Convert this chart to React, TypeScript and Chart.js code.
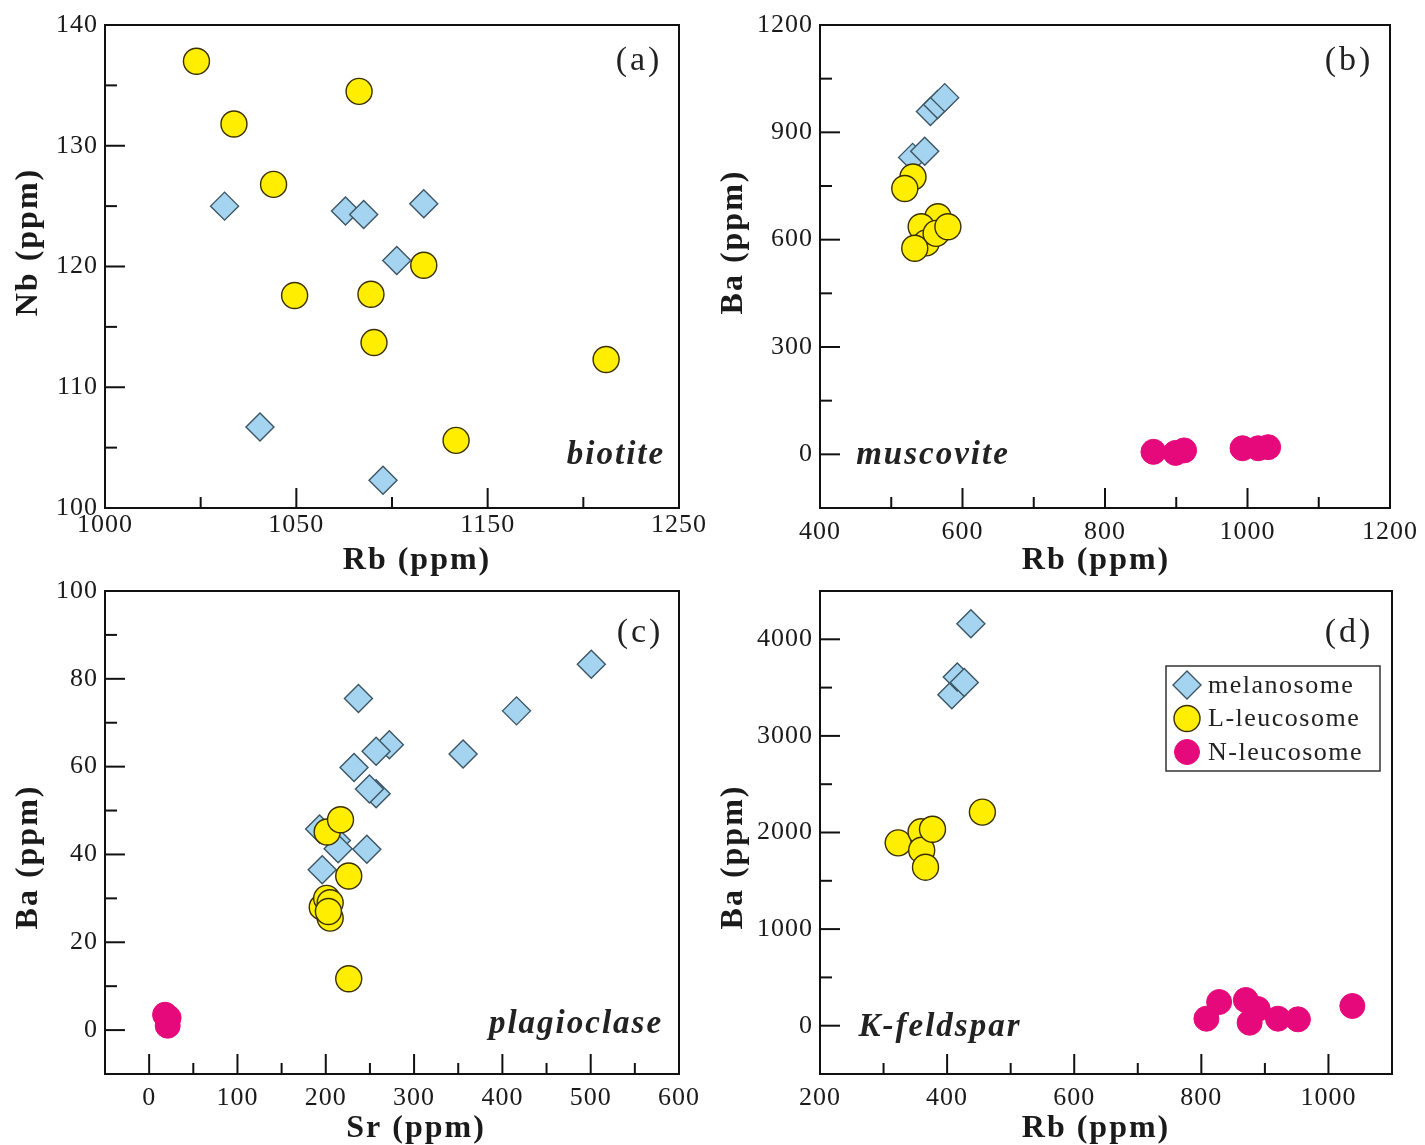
import React, { useEffect, useRef } from "react";
import { Chart, registerables } from "chart.js";

Chart.register(...registerables);

const W = 1425;
const H = 1145;
const SERIF = '"Liberation Serif", "Times New Roman", Times, serif';

// ---------- series names ----------
const seriesNames = ["melanosome", "L-leucosome", "N-leucosome"];

// ---------- (a) biotite : Rb vs Nb ----------
const aMelRb = [1012.5, 1075.7, 1085.2, 1116.6, 1102.5, 1031.0, 1095.3];
const aMelNb = [125.0, 124.6, 124.3, 125.2, 120.5, 106.7, 102.3];
const aLRb = [997.8, 1017.4, 1038.1, 1082.8, 1049.1, 1089.0, 1116.6, 1090.6, 1211.9, 1133.5];
const aLNb = [137.0, 131.8, 126.8, 134.5, 117.6, 117.7, 120.1, 113.7, 112.3, 105.6];
const aXTicks = [950, 1050, 1150, 1250];
const aXTickLabels = ["1000", "1050", "1150", "1250"];
const aXMinor = [1000, 1100, 1200];
const aYTicks = [100, 110, 120, 130, 140];
const aYTickLabels = ["100", "110", "120", "130", "140"];
const aYMinor = [105, 115, 125, 135];

// ---------- (b) muscovite : Rb vs Ba ----------
const bMelRb = [530, 547, 555, 565, 575];
const bMelBa = [830, 847, 958, 978, 997];
const bLRb = [530.5, 519, 565.5, 542, 549, 563, 579.5, 533];
const bLBa = [775, 743, 664, 636, 591, 617.5, 636, 576];
const bNRb = [868, 899, 911, 993, 1015, 1029];
const bNBa = [7, 4, 11, 17, 17, 20];
const bXTicks = [400, 600, 800, 1000, 1200];
const bXTickLabels = ["400", "600", "800", "1000", "1200"];
const bXMinor = [500, 700, 900, 1100];
const bYTicks = [0, 300, 600, 900, 1200];
const bYTickLabels = ["0", "300", "600", "900", "1200"];
const bYMinor = [150, 450, 750, 1050];

// ---------- (c) plagioclase : Sr vs Ba ----------
const cMelSr = [500.7, 416, 355.5, 272, 257, 237, 232, 257, 249.5, 193, 212, 214, 246.5, 196];
const cMelBa = [83.3, 72.7, 62.9, 65, 63.5, 75.5, 59.8, 53.8, 54.9, 45.8, 43.2, 41.3, 41.2, 36.5];
const cLSr = [201.6, 216.7, 226, 196, 201, 205, 205, 203, 226];
const cLBa = [45.1, 47.9, 35.1, 28, 30, 29, 25.5, 27, 11.7];
const cNSr = [18, 21, 22];
const cNBa = [3.5, 1.0, 2.8];
const cXTicks = [0, 100, 200, 300, 400, 500, 600];
const cXTickLabels = ["0", "100", "200", "300", "400", "500", "600"];
const cXMinor = [50, 150, 250, 350, 450, 550];
const cYTicks = [0, 20, 40, 60, 80, 100];
const cYTickLabels = ["0", "20", "40", "60", "80", "100"];
const cYMinor = [10, 30, 50, 70, 90];

// ---------- (d) K-feldspar : Rb vs Ba ----------
const dMelRb = [407.5, 416, 427, 437.4];
const dMelBa = [3427, 3610, 3553, 4161];
const dLRb = [455.5, 323, 359, 360, 366, 377];
const dLBa = [2211, 1893, 2007, 1817, 1641, 2033];
const dNRb = [888.7, 808, 828, 870, 876, 920.6, 952, 1037.6];
const dNBa = [173, 72.5, 245, 266, 31, 72.5, 66, 204];
const dXTicks = [200, 400, 600, 800, 1000];
const dXTickLabels = ["200", "400", "600", "800", "1000"];
const dXMinor = [300, 500, 700, 900];
const dYTicks = [0, 1000, 2000, 3000, 4000];
const dYTickLabels = ["0", "1000", "2000", "3000", "4000"];
const dYMinor = [500, 1500, 2500, 3500];

// ---------- marker styles ----------
const STYLES = [
  { pointStyle: "rectRot", radius: 14, bg: "#A5D4F0", border: "#3C5563", bw: 1.4 },
  { pointStyle: "circle", radius: 13, bg: "#FFEE00", border: "#3A3000", bw: 1.4 },
  { pointStyle: "circle", radius: 12.5, bg: "#E6097B", border: "#E6097B", bw: 1 },
];

type Axis = {
  min: number;
  max: number;
  ticks: number[];
  labels: string[];
  minor: number[];
  pad: number;
};

type Spec = {
  area: { left: number; top: number; right: number; bottom: number };
  x: Axis;
  y: Axis;
  xTitle: string;
  yTitle: string;
  xTitlePos: [number, number];
  yTitlePos: [number, number];
  tag: string;
  tagPos: [number, number];
  mineral: string;
  mineralPos: [number, number];
  legend: boolean;
  series: { x: number[]; y: number[] }[];
};

const panels: Spec[] = [
  {
    area: { left: 105, top: 25, right: 679, bottom: 508 },
    x: { min: 950, max: 1250, ticks: aXTicks, labels: aXTickLabels, minor: aXMinor, pad: 2 },
    y: { min: 100, max: 140, ticks: aYTicks, labels: aYTickLabels, minor: aYMinor, pad: 7 },
    xTitle: "Rb (ppm)",
    yTitle: "Nb (ppm)",
    xTitlePos: [416, 561],
    yTitlePos: [29, 243],
    tag: "(a)",
    tagPos: [638, 61],
    mineral: "biotite",
    mineralPos: [615, 464],
    legend: false,
    series: [
      { x: aMelRb, y: aMelNb },
      { x: aLRb, y: aLNb },
    ],
  },
  {
    area: { left: 820, top: 25, right: 1392, bottom: 508 },
    x: { min: 400, max: 1200, ticks: bXTicks, labels: bXTickLabels, minor: bXMinor, pad: 9 },
    y: { min: -150, max: 1200, ticks: bYTicks, labels: bYTickLabels, minor: bYMinor, pad: 7 },
    xTitle: "Rb (ppm)",
    yTitle: "Ba (ppm)",
    xTitlePos: [1095, 561],
    yTitlePos: [734, 243],
    tag: "(b)",
    tagPos: [1348, 61],
    mineral: "muscovite",
    mineralPos: [932, 464],
    legend: false,
    series: [
      { x: bMelRb, y: bMelBa },
      { x: bLRb, y: bLBa },
      { x: bNRb, y: bNBa },
    ],
  },
  {
    area: { left: 105, top: 591, right: 679, bottom: 1074 },
    x: { min: -50, max: 600, ticks: cXTicks, labels: cXTickLabels, minor: cXMinor, pad: 9 },
    y: { min: -10, max: 100, ticks: cYTicks, labels: cYTickLabels, minor: cYMinor, pad: 7 },
    xTitle: "Sr (ppm)",
    yTitle: "Ba (ppm)",
    xTitlePos: [415, 1129],
    yTitlePos: [29, 858],
    tag: "(c)",
    tagPos: [639, 633],
    mineral: "plagioclase",
    mineralPos: [575, 1033],
    legend: false,
    series: [
      { x: cMelSr, y: cMelBa },
      { x: cLSr, y: cLBa },
      { x: cNSr, y: cNBa },
    ],
  },
  {
    area: { left: 820, top: 591, right: 1392, bottom: 1074 },
    x: { min: 200, max: 1100, ticks: dXTicks, labels: dXTickLabels, minor: dXMinor, pad: 9 },
    y: { min: -500, max: 4500, ticks: dYTicks, labels: dYTickLabels, minor: dYMinor, pad: 7 },
    xTitle: "Rb (ppm)",
    yTitle: "Ba (ppm)",
    xTitlePos: [1095, 1129],
    yTitlePos: [734, 858],
    tag: "(d)",
    tagPos: [1348, 633],
    mineral: "K-feldspar",
    mineralPos: [939, 1036],
    legend: true,
    series: [
      { x: dMelRb, y: dMelBa },
      { x: dLRb, y: dLBa },
      { x: dNRb, y: dNBa },
    ],
  },
];

function drawMarker(ctx: CanvasRenderingContext2D, idx: number, x: number, y: number) {
  const st = STYLES[idx];
  ctx.beginPath();
  if (st.pointStyle === "rectRot") {
    const r = st.radius;
    ctx.moveTo(x - r, y);
    ctx.lineTo(x, y - r);
    ctx.lineTo(x + r, y);
    ctx.lineTo(x, y + r);
    ctx.closePath();
  } else {
    ctx.arc(x, y, st.radius, 0, Math.PI * 2);
  }
  ctx.fillStyle = st.bg;
  ctx.fill();
  ctx.lineWidth = st.bw;
  ctx.strokeStyle = st.border;
  ctx.stroke();
}

function makeDecor(spec: Spec) {
  return {
    id: "decor",
    beforeDraw(chart: any) {
      (chart.ctx as any).letterSpacing = "1px";
    },
    afterDraw(chart: any) {
      const ctx: CanvasRenderingContext2D = chart.ctx;
      const ca = chart.chartArea;
      const xs = chart.scales.x;
      const ys = chart.scales.y;
      ctx.save();
      // frame
      ctx.strokeStyle = "#111";
      ctx.lineWidth = 2;
      ctx.strokeRect(ca.left, ca.top, ca.right - ca.left, ca.bottom - ca.top);
      // inward ticks
      const xTick = (v: number, len: number) => {
        const p = xs.getPixelForValue(v);
        if (p <= ca.left + 1 || p >= ca.right - 1) return;
        ctx.beginPath();
        ctx.moveTo(p, ca.bottom);
        ctx.lineTo(p, ca.bottom - len);
        ctx.stroke();
      };
      const yTick = (v: number, len: number) => {
        const p = ys.getPixelForValue(v);
        if (p <= ca.top + 1 || p >= ca.bottom - 1) return;
        ctx.beginPath();
        ctx.moveTo(ca.left, p);
        ctx.lineTo(ca.left + len, p);
        ctx.stroke();
      };
      spec.x.ticks.forEach((v) => xTick(v, 20));
      spec.x.minor.forEach((v) => xTick(v, 11));
      spec.y.ticks.forEach((v) => yTick(v, 20));
      spec.y.minor.forEach((v) => yTick(v, 12));

      const anyCtx = ctx as any;
      // axis titles
      ctx.fillStyle = "#1a1a1a";
      ctx.font = `bold 32px ${SERIF}`;
      anyCtx.letterSpacing = "2px";
      ctx.textAlign = "center";
      ctx.textBaseline = "middle";
      ctx.fillText(spec.xTitle, spec.xTitlePos[0] + 1, spec.xTitlePos[1]);
      ctx.save();
      ctx.translate(spec.yTitlePos[0], spec.yTitlePos[1]);
      ctx.rotate(-Math.PI / 2);
      ctx.fillText(spec.yTitle, 1, 0);
      ctx.restore();

      // panel tag
      ctx.font = `34px ${SERIF}`;
      anyCtx.letterSpacing = "3px";
      ctx.fillStyle = "#222";
      ctx.fillText(spec.tag, spec.tagPos[0] + 1, spec.tagPos[1]);

      // mineral name
      ctx.font = `italic bold 33px ${SERIF}`;
      anyCtx.letterSpacing = "2px";
      ctx.textBaseline = "alphabetic";
      ctx.fillText(spec.mineral, spec.mineralPos[0] + 1, spec.mineralPos[1]);

      // legend
      if (spec.legend) {
        const bx = 1166, by = 666, bw = 214, bh = 105;
        ctx.fillStyle = "#fff";
        ctx.fillRect(bx, by, bw, bh);
        ctx.strokeStyle = "#333";
        ctx.lineWidth = 1.5;
        ctx.strokeRect(bx, by, bw, bh);
        const rows = [685, 718.5, 752];
        ctx.font = `26px ${SERIF}`;
        anyCtx.letterSpacing = "1.5px";
        ctx.textAlign = "left";
        ctx.textBaseline = "middle";
        seriesNames.forEach((name, i) => {
          drawMarker(ctx, i, 1187, rows[i]);
          ctx.fillStyle = "#222";
          ctx.fillText(name, 1208, rows[i] + 1);
        });
      }
      ctx.restore();
    },
  };
}

function buildConfig(spec: Spec): any {
  const datasets = spec.series.map((s, i) => ({
    label: seriesNames[i],
    data: s.x.map((v, j) => ({ x: v, y: s.y[j] })),
    pointStyle: STYLES[i].pointStyle,
    pointRadius: STYLES[i].radius,
    pointHoverRadius: STYLES[i].radius,
    backgroundColor: STYLES[i].bg,
    borderColor: STYLES[i].border,
    borderWidth: STYLES[i].bw,
    showLine: false,
    order: 2 - i,
  }));
  const tickFont = { family: SERIF, size: 26 };
  const axis = (ax: Axis, isX: boolean) => ({
    type: "linear",
    min: ax.min,
    max: ax.max,
    grid: { display: false, drawTicks: false },
    border: { display: false },
    afterBuildTicks: (scale: any) => {
      scale.ticks = ax.ticks.map((v) => ({ value: v }));
    },
    afterFit: (scale: any) => {
      if (isX) scale.height = H - spec.area.bottom;
      else scale.width = spec.area.left;
    },
    ticks: {
      autoSkip: false,
      maxRotation: 0,
      minRotation: 0,
      padding: ax.pad,
      color: "#1a1a1a",
      font: tickFont,
      callback: (value: number) => {
        const i = ax.ticks.indexOf(value);
        return i >= 0 ? ax.labels[i] : "";
      },
    },
  });
  return {
    type: "scatter",
    data: { datasets },
    options: {
      responsive: false,
      animation: false,
      devicePixelRatio: 1,
      layout: {
        padding: { left: 0, top: spec.area.top, right: W - spec.area.right, bottom: 0 },
      },
      plugins: { legend: { display: false }, tooltip: { enabled: false } },
      scales: { x: axis(spec.x, true), y: axis(spec.y, false) },
      events: [],
    },
    plugins: [makeDecor(spec)],
  };
}

function Panel({ spec }: { spec: Spec }) {
  const ref = useRef<HTMLCanvasElement>(null);
  useEffect(() => {
    const chart = new Chart(ref.current as HTMLCanvasElement, buildConfig(spec));
    return () => chart.destroy();
  }, [spec]);
  return (
    <canvas
      ref={ref}
      width={W}
      height={H}
      style={{ position: "absolute", left: 0, top: 0, width: W, height: H }}
    />
  );
}

export default function App() {
  return (
    <div
      style={{
        position: "absolute",
        left: 0,
        top: 0,
        width: W,
        height: H,
        background: "#ffffff",
        overflow: "hidden",
      }}
    >
      {panels.map((p, i) => (
        <Panel key={i} spec={p} />
      ))}
    </div>
  );
}
